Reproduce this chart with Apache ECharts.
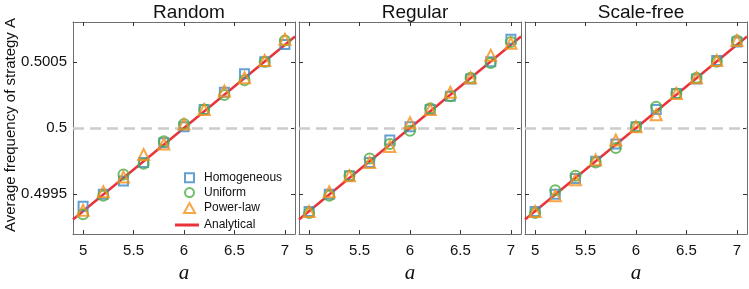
<!DOCTYPE html>
<html>
<head>
<meta charset="utf-8">
<script src="https://cdn.jsdelivr.net/npm/echarts@6/dist/echarts.min.js"></script>
<style>
  html, body { margin: 0; padding: 0; background: #fff; }
</style>
</head>
<body>
<div id="chart_freq" style="width:749px; height:289px;"></div>
<script>
  // values
  const aVals = [5, 5.2, 5.4, 5.6, 5.8, 6, 6.2, 6.4, 6.6, 6.8, 7]
  const xTicks = [5, 5.5, 6, 6.5, 7]
  const yTicks = [0.4995, 0.5, 0.5005]
  const panelNames = ['Random', 'Regular', 'Scale-free']

  const homRandom = [0.49941, 0.49950, 0.49960, 0.49974, 0.49989, 0.50001, 0.50014, 0.50027, 0.50041, 0.50050, 0.50063]
  const uniRandom = [0.49935, 0.49949, 0.49965, 0.49973, 0.49990, 0.50003, 0.50014, 0.50025, 0.50036, 0.50050, 0.50066]
  const powRandom = [0.49938, 0.49952, 0.49963, 0.49980, 0.49988, 0.50003, 0.50014, 0.50028, 0.50038, 0.50051, 0.50067]

  const homRegular = [0.49937, 0.49950, 0.49964, 0.49974, 0.49991, 0.50001, 0.50014, 0.50024, 0.50037, 0.50050, 0.50067]
  const uniRegular = [0.49936, 0.49949, 0.49964, 0.49977, 0.49988, 0.49998, 0.50015, 0.50024, 0.50038, 0.50049, 0.50065]
  const powRegular = [0.49937, 0.49952, 0.49964, 0.49974, 0.49986, 0.50004, 0.50014, 0.50027, 0.50038, 0.50055, 0.50064]

  const homScaleFree = [0.49937, 0.49950, 0.49962, 0.49975, 0.49988, 0.50001, 0.50014, 0.50026, 0.50037, 0.50051, 0.50065]
  const uniScaleFree = [0.49936, 0.49953, 0.49964, 0.49974, 0.49985, 0.50001, 0.50016, 0.50026, 0.50038, 0.50050, 0.50066]
  const powScaleFree = [0.49937, 0.49949, 0.49961, 0.49976, 0.49991, 0.50001, 0.50010, 0.50026, 0.50038, 0.50051, 0.50066]

  const analyticA = [4.9, 7.1]
  const analyticY = [0.49931, 0.50069]
  const refLevel = 0.5

  const panels = [
    [homRandom, uniRandom, powRandom],
    [homRegular, uniRegular, powRegular],
    [homScaleFree, uniScaleFree, powScaleFree]
  ]

  const font = 'Liberation Sans, Arial, sans-serif'
  const frameColor = '#6e6e6e'
  const colors = {
    hom: '#3f88c8',
    uni: '#4cae44',
    pow: '#f5901c',
    ana: '#e8333b'
  }
  const lefts = [73, 299, 525]
  const gridW = 222

  let chart = echarts.init(document.getElementById('chart_freq'))

  let grids = []
  let xAxes = []
  let yAxes = []
  let series = []
  let titles = []

  panelNames.forEach((name, i) => {
    grids.push({left: lefts[i], top: 22, width: gridW, height: 222})
    titles.push({
      text: name,
      left: lefts[i] + gridW / 2,
      top: -2,
      textAlign: 'center',
      textStyle: {fontFamily: font, fontSize: 19, fontWeight: 'normal', color: '#111'}
    })
    // bottom x axis with labels
    xAxes.push({
      gridIndex: i,
      type: 'value',
      min: 4.9,
      max: 7.1,
      position: 'bottom',
      name: 'a',
      nameLocation: 'middle',
      nameGap: 25,
      nameTextStyle: {fontFamily: 'Liberation Serif, DejaVu Serif, serif', fontStyle: 'italic', fontSize: 21, color: '#111'},
      splitLine: {show: false},
      axisLine: {show: true, lineStyle: {color: frameColor, width: 1}},
      axisTick: {show: true, inside: true, length: 4, customValues: xTicks, lineStyle: {color: '#333'}},
      axisLabel: {customValues: xTicks, margin: 9, fontFamily: font, fontSize: 15, color: '#111',
        formatter: (v) => String(v)}
    })
    // top x axis: ticks only
    xAxes.push({
      gridIndex: i,
      type: 'value',
      min: 4.9,
      max: 7.1,
      position: 'top',
      splitLine: {show: false},
      axisLine: {show: true, lineStyle: {color: frameColor, width: 1}},
      axisTick: {show: true, inside: true, length: 4, customValues: xTicks, lineStyle: {color: '#333'}},
      axisLabel: {show: false}
    })
    yAxes.push({
      gridIndex: i,
      type: 'value',
      min: 0.4992,
      max: 0.5008,
      position: 'left',
      splitLine: {show: false},
      axisLine: {show: true, lineStyle: {color: frameColor, width: 1}},
      axisTick: {show: true, inside: true, length: 4, customValues: yTicks, lineStyle: {color: '#333'}},
      axisLabel: {show: i === 0, customValues: yTicks, margin: 6, fontFamily: font, fontSize: 15, color: '#111',
        formatter: (v) => String(v)}
    })
    yAxes.push({
      gridIndex: i,
      type: 'value',
      min: 0.4992,
      max: 0.5008,
      position: 'right',
      splitLine: {show: false},
      axisLine: {show: true, lineStyle: {color: frameColor, width: 1}},
      axisTick: {show: true, inside: true, length: 4, customValues: yTicks, lineStyle: {color: '#333'}},
      axisLabel: {show: false}
    })

    let xi = i * 2
    let yi = i * 2
    series.push({
      name: 'Analytical',
      type: 'line',
      xAxisIndex: xi,
      yAxisIndex: yi,
      symbol: 'none',
      z: 3,
      lineStyle: {color: colors.ana, width: 2.5},
      itemStyle: {color: colors.ana},
      data: analyticA.map((a, k) => [a, analyticY[k]]),
      markLine: {
        silent: true,
        symbol: 'none',
        label: {show: false},
        lineStyle: {color: '#cccccc', width: 2.5, type: [11, 6]},
        z: 1,
        data: [{yAxis: refLevel}]
      }
    })
    const marks = [
      ['Homogeneous', 'rect', colors.hom, 9],
      ['Uniform', 'circle', colors.uni, 10],
      ['Power-law', 'triangle', colors.pow, 11]
    ]
    marks.forEach((m, k) => {
      series.push({
        name: m[0],
        type: 'scatter',
        xAxisIndex: xi,
        yAxisIndex: yi,
        symbol: m[1],
        symbolSize: m[3],
        z: 4 + k,
        itemStyle: {color: 'rgba(0,0,0,0)', borderColor: m[2], borderWidth: 2},
        data: aVals.map((a, j) => [a, panels[i][k][j]])
      })
    })
  })

  // one legend per row so marker icons stay square and the line icon stays wide
  const legendRows = [
    {name: 'Homogeneous', left: 184, cy: 177.7, w: 9, h: 9, pad: 5},
    {name: 'Uniform', left: 184, cy: 192.6, w: 9, h: 9, pad: 5},
    {name: 'Power-law', left: 183, cy: 208, w: 11, h: 10, pad: 4},
    {name: 'Analytical', left: 175, cy: 225, w: 24, h: 3, pad: 0, icon: 'rect'}
  ]
  let legends = legendRows.map((r) => ({
    data: [r.icon ? {name: r.name, icon: r.icon, itemStyle: {color: colors.ana, borderWidth: 0}} : r.name],
    orient: 'vertical',
    left: r.left,
    top: r.cy - 7,
    padding: 0,
    itemWidth: r.w,
    itemHeight: r.h,
    selectedMode: false,
    textStyle: {fontFamily: font, fontSize: 12, color: '#111', padding: [0, 0, 0, r.pad], lineHeight: 14},
    itemStyle: {borderWidth: 2}
  }))

  let options = {
    animation: false,
    backgroundColor: '#fff',
    title: titles,
    legend: legends,
    graphic: [{
      type: 'text',
      x: 11,
      y: 125,
      rotation: Math.PI / 2,
      style: {
        text: 'Average frequency of strategy A',
        fontFamily: font,
        fontSize: 15,
        fill: '#111',
        textAlign: 'center',
        textVerticalAlign: 'middle'
      }
    }],
    grid: grids,
    xAxis: xAxes,
    yAxis: yAxes,
    series: series
  }
  chart.setOption(options)
</script>
</body>
</html>
